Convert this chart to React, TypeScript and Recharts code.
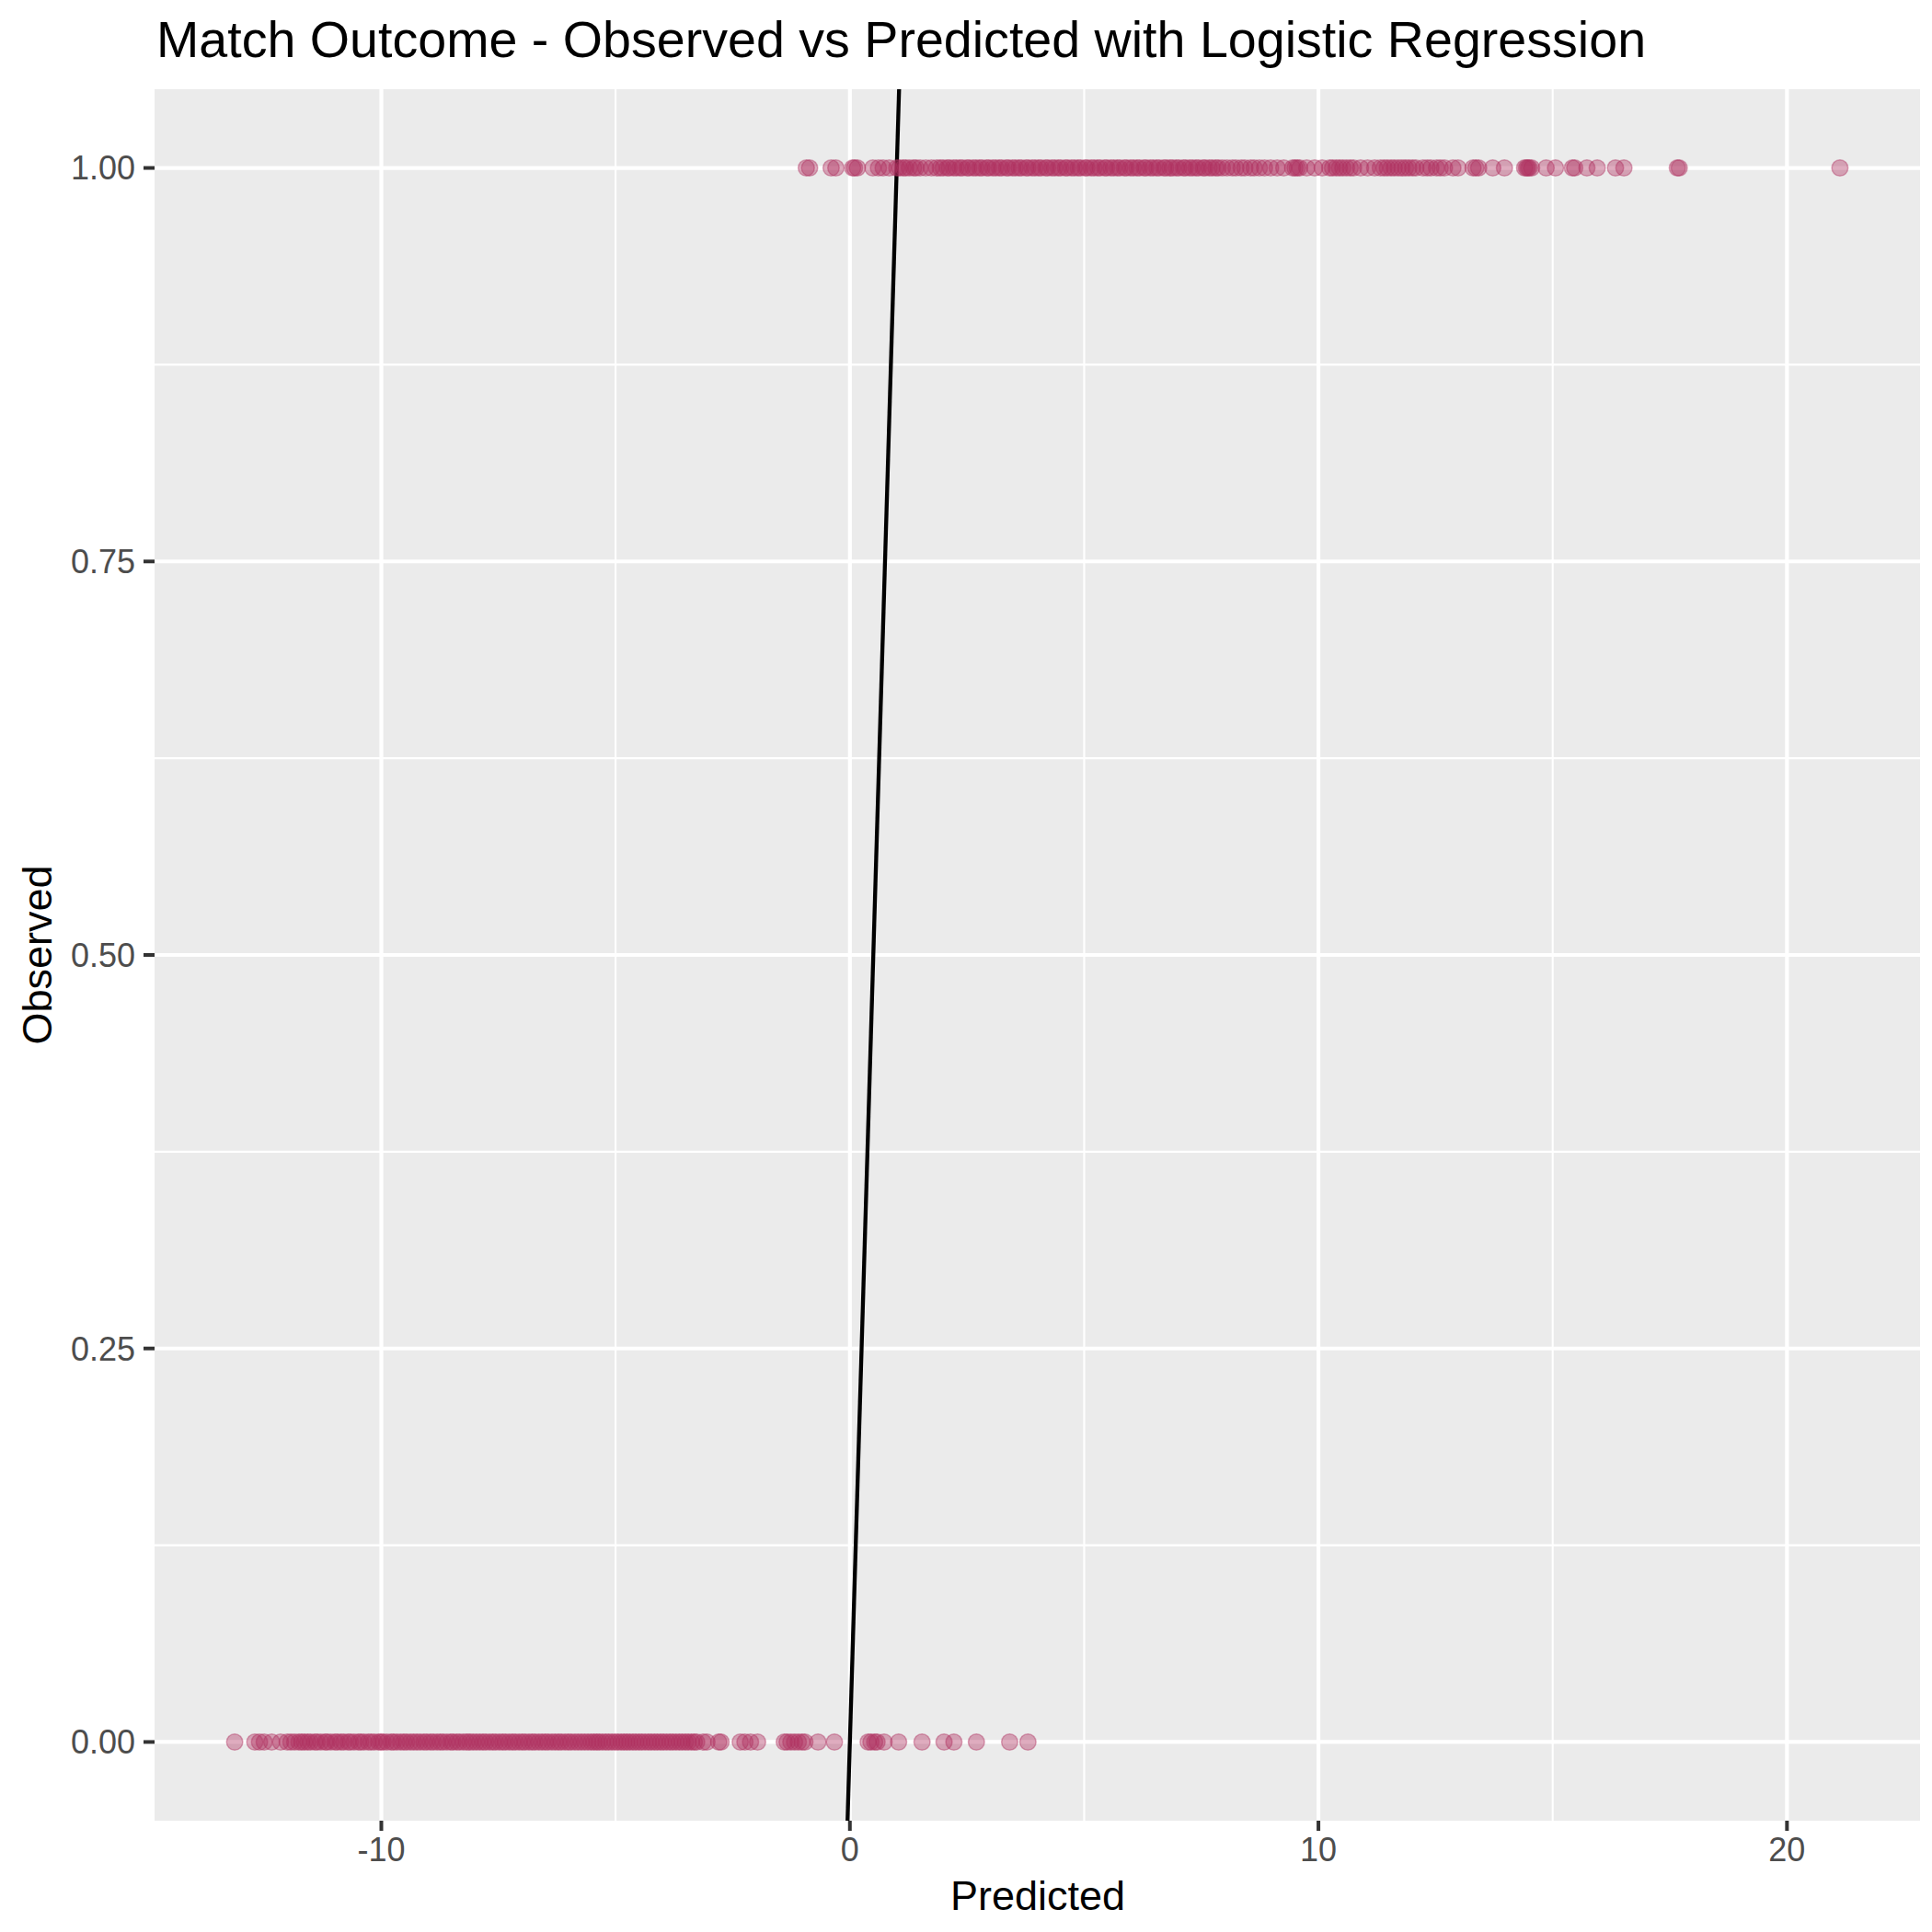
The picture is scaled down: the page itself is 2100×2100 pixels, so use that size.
import React from "react";
import {
  ScatterChart,
  Scatter,
  XAxis,
  YAxis,
  CartesianGrid,
  ReferenceLine,
} from "recharts";

// Predicted values for matches whose observed outcome was 0 (loss)
const predictedObservedZero: number[] = [
  -13.13, -12.7, -12.6, -12.5, -12.34, -12.15, -12.01, -11.93, -11.85, -11.76, -11.7,
  -11.64, -11.57, -11.51, -11.42, -11.37, -11.29, -11.2, -11.16, -11.08, -10.99, -10.94,
  -10.86, -10.8, -10.71, -10.66, -10.58, -10.49, -10.44, -10.37, -10.28, -10.22, -10.15,
  -10.06, -10.01, -9.96, -9.88, -9.79, -9.74, -9.67, -9.59, -9.52, -9.46, -9.38, -9.31,
  -9.24, -9.17, -9.09, -9.03, -8.95, -8.89, -8.81, -8.74, -8.68, -8.6, -8.52, -8.47,
  -8.39, -8.33, -8.25, -8.18, -8.11, -8.04, -7.97, -7.9, -7.83, -7.77, -7.69, -7.62,
  -7.56, -7.48, -7.41, -7.35, -7.27, -7.2, -7.14, -7.06, -6.99, -6.93, -6.85, -6.78,
  -6.72, -6.64, -6.57, -6.5, -6.44, -6.36, -6.29, -6.22, -6.16, -6.08, -6.01, -5.95,
  -5.87, -5.8, -5.73, -5.66, -5.59, -5.52, -5.46, -5.4, -5.35, -5.28, -5.21, -5.15,
  -5.08, -5.01, -4.95, -4.88, -4.82, -4.76, -4.7, -4.63, -4.57, -4.5, -4.44, -4.37,
  -4.3, -4.24, -4.17, -4.11, -4.04, -3.98, -3.91, -3.84, -3.78, -3.71, -3.64, -3.58,
  -3.51, -3.45, -3.38, -3.32, -3.27, -3.13, -3.05, -2.8, -2.75, -2.34, -2.24, -2.12,
  -1.97, -1.4, -1.34, -1.26, -1.18, -1.1, -1.02, -0.96, -0.68, -0.33, 0.39, 0.45, 0.53,
  0.58, 0.73, 1.04, 1.54, 2.01, 2.22, 2.7, 3.41, 3.8,
];

// Predicted values for matches whose observed outcome was 1 (win)
const predictedObservedOne: number[] = [
  -0.93, -0.86, -0.4, -0.3, 0.06, 0.1, 0.16, 0.49, 0.61, 0.71, 0.84, 1.0, 1.06, 1.14,
  1.19, 1.27, 1.36, 1.41, 1.5, 1.62, 1.74, 1.85, 1.93, 1.99, 2.08, 2.12, 2.21, 2.27,
  2.35, 2.4, 2.5, 2.54, 2.63, 2.69, 2.77, 2.82, 2.92, 2.96, 3.05, 3.11, 3.19, 3.24,
  3.34, 3.38, 3.47, 3.53, 3.61, 3.66, 3.76, 3.8, 3.89, 3.95, 4.03, 4.08, 4.18, 4.22,
  4.31, 4.37, 4.45, 4.5, 4.6, 4.64, 4.73, 4.79, 4.87, 4.92, 5.02, 5.06, 5.15, 5.21,
  5.29, 5.34, 5.44, 5.48, 5.57, 5.63, 5.71, 5.76, 5.86, 5.9, 5.99, 6.05, 6.13, 6.18,
  6.28, 6.32, 6.41, 6.47, 6.55, 6.6, 6.7, 6.74, 6.83, 6.89, 6.97, 7.02, 7.12, 7.16,
  7.25, 7.31, 7.39, 7.44, 7.54, 7.58, 7.67, 7.73, 7.81, 7.86, 7.95, 8.05, 8.16, 8.24,
  8.35, 8.43, 8.55, 8.63, 8.74, 8.85, 8.98, 9.12, 9.26, 9.45, 9.5, 9.55, 9.6, 9.75,
  9.92, 10.08, 10.24, 10.3, 10.38, 10.45, 10.52, 10.6, 10.68, 10.75, 10.9, 11.05, 11.2,
  11.32, 11.4, 11.47, 11.55, 11.62, 11.7, 11.78, 11.86, 11.93, 12.01, 12.08, 12.23,
  12.32, 12.4, 12.52, 12.6, 12.69, 12.87, 12.98, 13.3, 13.36, 13.42, 13.72, 13.97, 14.4,
  14.44, 14.47, 14.5, 14.55, 14.86, 15.06, 15.42, 15.47, 15.73, 15.95, 16.34, 16.52,
  17.66, 17.7, 21.13,
];

const xTicks = [-10, 0, 10, 20];
const xMinorTicks = [-5, 5, 15];
const yTicks = [0, 0.25, 0.5, 0.75, 1];
const yMinorTicks = [0.125, 0.375, 0.625, 0.875];
const xDomain: [number, number] = [-14.84, 22.84];
const yDomain: [number, number] = [-0.05, 1.05];
// identity reference line (observed = predicted)
const diagonal = [
  { x: -0.05, y: -0.05 },
  { x: 1.05, y: 1.05 },
];

const TITLE = "Match Outcome - Observed vs Predicted with Logistic Regression";
const X_TITLE = "Predicted";
const Y_TITLE = "Observed";

const zeroData = predictedObservedZero.map((p) => ({ predicted: p, observed: 0 }));
const oneData = predictedObservedOne.map((p) => ({ predicted: p, observed: 1 }));

const POINT = "#B03060";
const FONT = "'Liberation Sans', Arial, sans-serif";

const Dot = (props: any) => {
  const { cx, cy } = props;
  if (cx == null || cy == null) return <g />;
  return (
    <circle
      cx={cx}
      cy={cy}
      r={8.8}
      fill={POINT}
      fillOpacity={0.4}
      stroke={POINT}
      strokeOpacity={0.4}
      strokeWidth={1.5}
    />
  );
};

const W = 2084;
const H = 2084;

export default function App() {
  return (
    <div style={{ position: "relative", width: W, height: H, fontFamily: FONT }}>
      <ScatterChart
        width={W}
        height={H}
        margin={{ top: 89, right: 5, bottom: 0, left: 0 }}
      >
        <CartesianGrid
          fill="#EBEBEB"
          fillOpacity={1}
          stroke="#FFFFFF"
          strokeWidth={2.1}
          horizontalValues={yMinorTicks}
          verticalValues={xMinorTicks}
        />
        <CartesianGrid
          stroke="#FFFFFF"
          strokeWidth={4.2}
          horizontalValues={yTicks}
          verticalValues={xTicks}
        />
        <XAxis
          type="number"
          dataKey="predicted"
          domain={xDomain}
          ticks={xTicks}
          allowDataOverflow
          axisLine={false}
          height={113}
          tickSize={11}
          tickMargin={7}
          tickLine={{ stroke: "#333333", strokeWidth: 4 }}
          tick={{ fill: "#4D4D4D", fontSize: 36, fontFamily: FONT }}
        />
        <YAxis
          type="number"
          dataKey="observed"
          domain={yDomain}
          ticks={yTicks}
          allowDataOverflow
          axisLine={false}
          width={160}
          tickSize={12}
          tickMargin={9}
          tickFormatter={(v: number) => v.toFixed(2)}
          tickLine={{ stroke: "#333333", strokeWidth: 4 }}
          tick={{ fill: "#4D4D4D", fontSize: 36, fontFamily: FONT }}
        />
        <Scatter data={zeroData} shape={Dot} isAnimationActive={false} />
        <Scatter data={oneData} shape={Dot} isAnimationActive={false} />
        <ReferenceLine
          segment={diagonal}
          stroke="#000000"
          strokeWidth={4.3}
          ifOverflow="visible"
        />
      </ScatterChart>
      <svg
        width={W}
        height={H}
        style={{ position: "absolute", left: 0, top: 0, pointerEvents: "none" }}
      >
        <text x={162} y={54} fontSize={55.6} fill="#000000" fontFamily={FONT}>
          {TITLE}
        </text>
        <text
          x={1120}
          y={2068}
          fontSize={45}
          fill="#000000"
          textAnchor="middle"
          fontFamily={FONT}
        >
          {X_TITLE}
        </text>
        <text
          x={48}
          y={1030}
          fontSize={45}
          fill="#000000"
          textAnchor="middle"
          fontFamily={FONT}
          transform="rotate(-90 48 1030)"
        >
          {Y_TITLE}
        </text>
      </svg>
    </div>
  );
}
